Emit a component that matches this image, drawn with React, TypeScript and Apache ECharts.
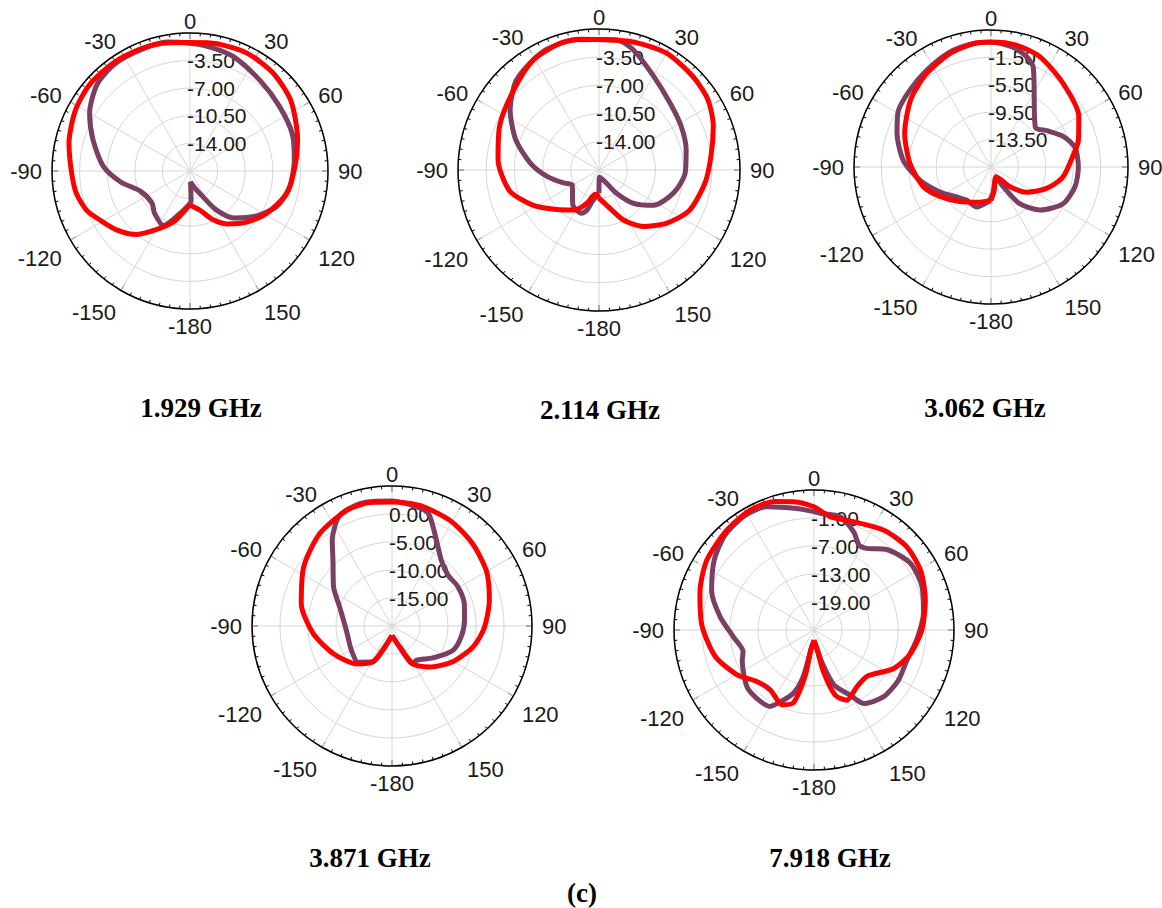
import React, { useEffect, useRef } from "react";
import * as echarts from "echarts";

// ---------- Data (angle in degrees, gain in dB) ----------
// 1.929 GHz
const f1RedAngles = [-180, -171, -162, -150, -140, -129, -119, -111, -101, -90, -77, -62, -49, -35, -22, -13, 0, 12, 26, 40, 55, 74, 88, 103, 119, 132, 145, 155, 166, 180];
const f1RedDb = [-13.2, -12.25, -10.7, -8.9, -7.0, -5.6, -4.55, -3.5, -2.8, -2.45, -1.75, -1.05, -0.7, -0.7, -0.8, -0.9, -1.2, -1.0, -0.9, -1.2, -1.9, -3.3, -4.2, -4.9, -6.4, -7.8, -9.3, -10.7, -12.4, -13.2];
const f1PurpleAngles = [-180, -167, -154, -140, -130, -112, -99, -87, -72, -60, -47, -35, -22, -10, 0, 10, 21, 38, 54, 70, 84, 99, 112, 124, 137, 146, 156, 166, 177, 178, 180];
const f1PurpleDb = [-13.4, -12.0, -9.8, -10.5, -11.2, -10.7, -8.6, -6.5, -4.55, -2.8, -1.4, -0.9, -0.9, -0.9, -1.3, -1.6, -2.0, -3.0, -3.5, -3.7, -4.2, -4.7, -5.6, -7.3, -9.35, -11.55, -14.35, -15.4, -16.1, -13.65, -13.4];

// 2.114 GHz
const f2RedAngles = [-180, -171, -160, -149, -133, -118, -103, -84, -66, -47, -31, -17, -8, 0, 15, 30, 45, 57, 69, 83, 97, 114, 128, 142, 154, 168, 180];
const f2RedDb = [-14.0, -14.45, -13.1, -11.7, -10.3, -8.2, -6.1, -4.9, -4.0, -3.0, -1.6, -1.05, -1.1, -1.3, -1.05, -0.75, -1.05, -1.4, -2.3, -3.5, -4.25, -5.2, -6.8, -8.6, -10.6, -13.05, -14.0];
const f2PurpleAngles = [-180, -169, -163, -158, -143, -119, -110, -97, -84, -70, -56, -44, -35, -24, -11, 0, 8, 16, 30, 47, 62, 77, 92, 107, 123, 134, 143, 153, 178, 180];
const f2PurpleDb = [-14.6, -13.7, -12.25, -11.7, -12.1, -13.7, -12.8, -11.0, -8.9, -6.5, -4.2, -2.5, -1.85, -1.2, -1.05, -1.3, -1.2, -2.0, -4.0, -5.4, -5.95, -6.4, -6.8, -7.8, -9.45, -11.55, -13.9, -15.9, -16.6, -14.6];

// 3.062 GHz
const f3RedAngles = [-180, -162, -138, -120, -106, -88, -69, -50, -35, -20, -8, 0, 12, 24, 41, 60, 73, 79, 98, 111, 125, 136, 152, 172, 180];
const f3RedDb = [-12.6, -12.1, -10.7, -8.9, -7.2, -5.7, -4.0, -2.2, -0.96, 0.1, 0.7, 0.74, 0.66, 0.1, -1.4, -2.7, -4.16, -5.0, -6.9, -8.8, -11.1, -13.5, -15.9, -14.1, -12.6];
const f3PurpleAngles = [-180, -175, -160, -144, -131, -116, -101, -86, -70, -59, -47, -34, -20, -8, 0, 10, 18, 23, 48, 57, 67, 77, 90, 103, 117, 131, 142, 148, 155, 176, 180];
const f3PurpleDb = [-13.0, -12.4, -11.3, -11.5, -10.85, -9.2, -7.0, -4.7, -2.9, -1.7, -1.2, -0.56, 0.3, 0.7, 0.7, 0.3, -0.6, -1.7, -8.8, -7.75, -6.05, -4.9, -4.75, -4.9, -5.7, -7.95, -10.7, -14.1, -15.7, -13.6, -13.0];

// 3.871 GHz
const f4RedAngles = [-180, -161, -152, -137, -115, -95, -76, -56, -38, -21, -10, 0, 13, 29, 44, 60, 75, 91, 104, 120, 137, 151, 160, 180];
const f4RedDb = [-18.3, -16.0, -12.75, -10.75, -8.4, -5.8, -3.3, -1.0, 0.95, 2.2, 2.4, 2.15, 2.1, 1.5, 0.6, -0.5, -2.0, -3.5, -5.0, -7.35, -10.0, -12.25, -16.0, -18.3];
const f4PurpleAngles = [-180, -161, -152, -137, -121, -95, -70, -56, -42, -35, -26, -17, -9, 0, 12, 18, 26, 37, 48, 59, 73, 85, 99, 112, 128, 145, 151, 160, 180];
const f4PurpleDb = [-18.3, -16.0, -12.75, -11.15, -11.55, -11.8, -10.05, -7.4, -4.25, -1.4, 1.7, 2.5, 2.5, 2.3, 1.7, 1.1, -2.25, -5.35, -6.5, -6.3, -6.5, -7.0, -7.5, -8.3, -10.75, -12.5, -12.25, -16.0, -18.3];

// 7.918 GHz
const f5RedAngles = [-180, -171, -169, -164, -157, -144, -132, -120, -105, -88, -72, -57, -41, -28, -17, -9, 0, 8, 20, 35, 48, 61, 75, 90, 104, 116, 131, 143, 155, 162, 167, 171, 180];
const f5RedDb = [-22.85, -20.65, -14.8, -8.7, -7.6, -9.1, -8.5, -5.9, -3.1, -1.0, 0.7, 2.4, 3.4, 4.1, 3.8, 2.85, 1.4, -0.45, -0.3, 1.1, 1.7, 1.15, -0.3, -1.9, -3.75, -6.1, -9.9, -9.75, -8.4, -10.3, -15.5, -20.65, -22.85];
const f5PurpleAngles = [-180, -172, -167, -162, -155, -150, -140, -130, -113, -107, -95, -82, -69, -55, -43, -31, -21, -8, 0, 3, 13, 22, 28, 33, 42, 55, 68, 81, 95, 108, 121, 134, 146, 151, 160, 166, 172, 180];
const f5PurpleDb = [-22.5, -21.4, -14.8, -10.75, -8.05, -6.1, -5.9, -6.2, -8.3, -9.1, -7.7, -4.7, -1.5, 1.1, 2.9, 3.65, 3.3, 1.3, 0.35, 0.05, -0.1, -2.3, -4.4, -4.15, -1.8, 0.1, -0.05, -1.25, -2.85, -4.05, -3.95, -4.35, -6.0, -9.05, -12.5, -17.65, -21.4, -22.5];

// Radial scales (dB): min, max, step
const f1Scale = [-17.5, 0, 3.5];
const f2Scale = [-17.5, 0, 3.5];
const f3Scale = [-17.5, 2.5, 4];
const f4Scale = [-20, 5, 5];
const f5Scale = [-25, 5, 6];

const titles = ["1.929 GHz", "2.114 GHz", "3.062 GHz", "3.871 GHz", "7.918 GHz"];
const caption = "(c)";

// ---------- Layout ----------
const plots = [
  { center: [190, 171], radius: 138, title: [201, 408], scale: f1Scale, red: [f1RedAngles, f1RedDb], purple: [f1PurpleAngles, f1PurpleDb] },
  { center: [599, 170], radius: 141, title: [600, 410], scale: f2Scale, red: [f2RedAngles, f2RedDb], purple: [f2PurpleAngles, f2PurpleDb] },
  { center: [991, 167], radius: 137, title: [985, 408], scale: f3Scale, red: [f3RedAngles, f3RedDb], purple: [f3PurpleAngles, f3PurpleDb] },
  { center: [392, 626], radius: 140, title: [370, 858], scale: f4Scale, red: [f4RedAngles, f4RedDb], purple: [f4PurpleAngles, f4PurpleDb] },
  { center: [814, 630], radius: 140, title: [830, 858], scale: f5Scale, red: [f5RedAngles, f5RedDb], purple: [f5PurpleAngles, f5PurpleDb] },
];

const RED = "#ff0000";
const PURPLE = "#7b3f63";
const GRID = "#d6d6d6";
const SANS = "Liberation Sans, Arial, sans-serif";
const TITLE_FONT = 'bold 27px "Liberation Serif", "Times New Roman", serif';
const LABEL_COLOR = "#1a1a1a";

const toSeriesData = (angles: number[], db: number[]) =>
  angles.map((a, i) => [db[i], a < 0 ? a + 360 : a]);

// angle tick label: text plus a rich style chosen by position around the circle
const angleLabel = (v: number) => {
  if (v === 360) return "";
  const text = v === 180 ? "-180" : v > 180 ? String(v - 360) : String(v);
  const d = v > 180 ? 360 - v : v;
  const cls = d <= 60 ? "u" : d === 90 ? "m" : d < 180 ? "d" : "b";
  return `{${cls}|${text}}`;
};
const richToken = (lineHeight: number) => ({
  fontSize: 22,
  fontFamily: SANS,
  color: LABEL_COLOR,
  lineHeight,
});

export default function App() {
  const ref = useRef<HTMLDivElement>(null);

  useEffect(() => {
    if (!ref.current) return;
    const chart = echarts.init(ref.current, undefined, { renderer: "svg" });

    const polar = plots.map((p) => ({ center: p.center, radius: p.radius }));
    const angleAxis = plots.map((_, i) => ({
      polarIndex: i,
      type: "value",
      min: 0,
      max: 360,
      interval: 30,
      startAngle: 90,
      clockwise: true,
      axisLine: { show: true, lineStyle: { color: "#000", width: 1.5 } },
      axisTick: { show: true, inside: true, length: 6, lineStyle: { color: "#000", width: 1 } },
      minorTick: { show: true, splitNumber: 7, length: 3, lineStyle: { color: "#000", width: 1 } },
      splitLine: { show: true, lineStyle: { color: GRID, width: 1 } },
      axisLabel: {
        show: true,
        margin: 10,
        fontSize: 22,
        fontFamily: SANS,
        color: LABEL_COLOR,
        formatter: angleLabel,
        rich: {
          u: richToken(3),
          m: richToken(22),
          d: richToken(27),
          b: richToken(14),
        },
      },
    }));
    const radiusAxis = plots.map((p, i) => ({
      polarIndex: i,
      type: "value",
      min: p.scale[0],
      max: p.scale[1],
      interval: p.scale[2],
      axisLine: { show: false },
      axisTick: { show: false },
      splitLine: { show: true, lineStyle: { color: GRID, width: 1 } },
      axisLabel: {
        show: true,
        showMinLabel: false,
        showMaxLabel: false,
        margin: 3,
        align: "left",
        verticalAlign: "middle",
        fontSize: 21,
        fontFamily: SANS,
        color: LABEL_COLOR,
        formatter: (v: number) => v.toFixed(2),
      },
    }));

    const series: any[] = [];
    plots.forEach((p, i) => {
      series.push({
        type: "line",
        coordinateSystem: "polar",
        polarIndex: i,
        symbol: "none",
        smooth: 0.25,
        data: toSeriesData(p.purple[0], p.purple[1]),
        lineStyle: { color: PURPLE, width: 5 },
        z: 3,
      });
      series.push({
        type: "line",
        coordinateSystem: "polar",
        polarIndex: i,
        symbol: "none",
        smooth: 0.25,
        data: toSeriesData(p.red[0], p.red[1]),
        lineStyle: { color: RED, width: 5 },
        z: 4,
      });
    });

    const textStyle = (text: string) => ({
      text,
      font: TITLE_FONT,
      fill: "#000",
      align: "center",
      verticalAlign: "middle",
      textAlign: "center",
      textVerticalAlign: "middle",
    });
    const graphic: any[] = plots.map((p, i) => ({
      type: "text",
      x: p.title[0],
      y: p.title[1],
      style: textStyle(titles[i]),
    }));
    graphic.push({ type: "text", x: 582, y: 893, style: textStyle(caption) });

    chart.setOption({
      animation: false,
      backgroundColor: "#fff",
      polar,
      angleAxis,
      radiusAxis,
      series,
      graphic,
    });

    return () => chart.dispose();
  }, []);

  return (
    <div
      ref={ref}
      style={{ position: "absolute", left: 0, top: 0, width: 1162, height: 908 }}
    />
  );
}
